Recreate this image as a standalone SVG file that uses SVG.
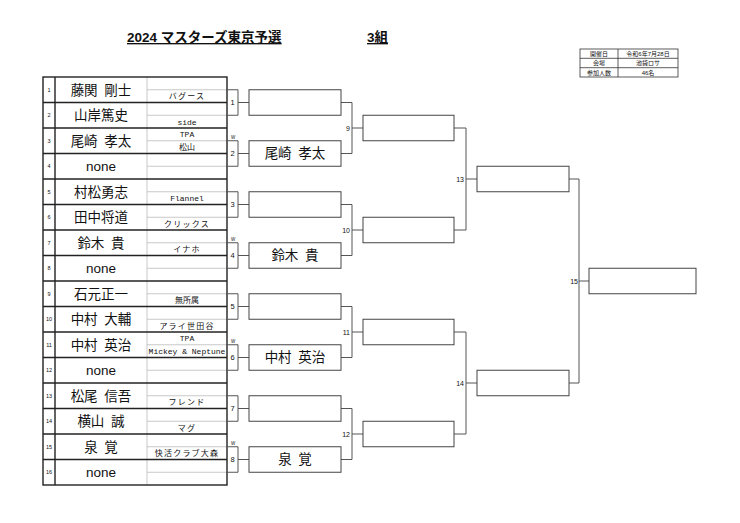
<svg xmlns="http://www.w3.org/2000/svg" width="740" height="523" viewBox="0 0 740 523">
<style>
text{font-family:"Liberation Sans","Noto Sans CJK JP",sans-serif;fill:#111}
.title{font-size:13.5px;font-weight:bold;text-decoration:underline}
.info{font-size:6px;text-anchor:middle}
.num{font-size:5.5px;text-anchor:middle}
.name{font-size:13.5px;text-anchor:middle}
.club{font-family:"Liberation Mono","Noto Sans CJK JP",monospace;font-size:8px;text-anchor:middle}
.kana{letter-spacing:1.2px}
.rn{font-size:7.5px;text-anchor:middle}
.lbl{font-size:7px;text-anchor:end}
.w{font-size:4.5px;text-anchor:middle}
.thick{stroke:#222;stroke-width:1.4;fill:none}
.thin{stroke:#bbb;stroke-width:0.8;fill:none}
.box{stroke:#444;stroke-width:1;fill:#fff}
.con{stroke:#555;stroke-width:1;fill:none}
</style>
<text class="title" x="127" y="42">2024 マスターズ東京予選</text>
<text class="title" x="367" y="42">3組</text>
<g id="info">
<rect x="580" y="49" width="98" height="28" fill="none" stroke="#333" stroke-width="0.8"/>
<line x1="618" y1="49" x2="618" y2="77" stroke="#333" stroke-width="0.8"/>
<line x1="580" y1="58.3" x2="678" y2="58.3" stroke="#333" stroke-width="0.8"/>
<line x1="580" y1="67.7" x2="678" y2="67.7" stroke="#333" stroke-width="0.8"/>
<text class="info" x="599" y="55.8">開催日</text><text class="info" x="648" y="55.8">令和6年7月28日</text>
<text class="info" x="599" y="65.2">会場</text><text class="info" x="648" y="65.2">池袋ロサ</text>
<text class="info" x="599" y="74.6">参加人数</text><text class="info" x="648" y="74.6">46名</text>
</g>
<g id="table">
<g class="thin">
<line x1="147" y1="89.75" x2="227" y2="89.75"/><line x1="147" y1="115.25" x2="227" y2="115.25"/>
<line x1="147" y1="140.75" x2="227" y2="140.75"/><line x1="147" y1="166.25" x2="227" y2="166.25"/>
<line x1="147" y1="191.75" x2="227" y2="191.75"/><line x1="147" y1="217.25" x2="227" y2="217.25"/>
<line x1="147" y1="242.75" x2="227" y2="242.75"/><line x1="147" y1="268.25" x2="227" y2="268.25"/>
<line x1="147" y1="293.75" x2="227" y2="293.75"/><line x1="147" y1="319.25" x2="227" y2="319.25"/>
<line x1="147" y1="344.75" x2="227" y2="344.75"/><line x1="147" y1="370.25" x2="227" y2="370.25"/>
<line x1="147" y1="395.75" x2="227" y2="395.75"/><line x1="147" y1="421.25" x2="227" y2="421.25"/>
<line x1="147" y1="446.75" x2="227" y2="446.75"/><line x1="147" y1="472.25" x2="227" y2="472.25"/>
<line x1="147" y1="77" x2="147" y2="485"/>
</g>
<g class="thick">
<rect x="43" y="77" width="184" height="408"/>
<line x1="55" y1="77" x2="55" y2="485"/>
<line x1="43" y1="102.5" x2="227" y2="102.5"/><line x1="43" y1="128" x2="227" y2="128"/>
<line x1="43" y1="153.5" x2="227" y2="153.5"/><line x1="43" y1="179" x2="227" y2="179"/>
<line x1="43" y1="204.5" x2="227" y2="204.5"/><line x1="43" y1="230" x2="227" y2="230"/>
<line x1="43" y1="255.5" x2="227" y2="255.5"/><line x1="43" y1="281" x2="227" y2="281"/>
<line x1="43" y1="306.5" x2="227" y2="306.5"/><line x1="43" y1="332" x2="227" y2="332"/>
<line x1="43" y1="357.5" x2="227" y2="357.5"/><line x1="43" y1="383" x2="227" y2="383"/>
<line x1="43" y1="408.5" x2="227" y2="408.5"/><line x1="43" y1="434" x2="227" y2="434"/>
<line x1="43" y1="459.5" x2="227" y2="459.5"/>
</g>
</g>
<g id="p1"><text class="num" x="49" y="91.7">1</text><text class="name" x="101" y="94.5">藤関&#8194;剛士</text><text class="club kana" x="187" y="99.3">バグース</text></g>
<g id="p2"><text class="num" x="49" y="117.2">2</text><text class="name" x="101" y="120">山岸篤史</text><text class="club" x="187" y="124.8">side</text></g>
<g id="p3"><text class="num" x="49" y="142.7">3</text><text class="name" x="101" y="145.5">尾崎&#8194;孝太</text><text class="club" x="187" y="136.8">TPA</text><text class="club" x="187" y="150.3">松山</text></g>
<g id="p4"><text class="num" x="49" y="168.2">4</text><text class="name" x="101" y="171">none</text></g>
<g id="p5"><text class="num" x="49" y="193.7">5</text><text class="name" x="101" y="196.5">村松勇志</text><text class="club" x="187" y="201.3">Flannel</text></g>
<g id="p6"><text class="num" x="49" y="219.2">6</text><text class="name" x="101" y="222">田中将道</text><text class="club kana" x="187" y="226.8">クリックス</text></g>
<g id="p7"><text class="num" x="49" y="244.7">7</text><text class="name" x="101" y="247.5">鈴木&#8194;貴</text><text class="club kana" x="187" y="252.3">イナホ</text></g>
<g id="p8"><text class="num" x="49" y="270.2">8</text><text class="name" x="101" y="273">none</text></g>
<g id="p9"><text class="num" x="49" y="295.7">9</text><text class="name" x="101" y="298.5">石元正一</text><text class="club" x="187" y="303.3">無所属</text></g>
<g id="p10"><text class="num" x="49" y="321.2">10</text><text class="name" x="101" y="324">中村&#8194;大輔</text><text class="club kana" x="187" y="328.8">アライ世田谷</text></g>
<g id="p11"><text class="num" x="49" y="346.7">11</text><text class="name" x="101" y="349.5">中村&#8194;英治</text><text class="club" x="187" y="340.8">TPA</text><text class="club" x="187" y="354.3">Mickey &amp; Neptune</text></g>
<g id="p12"><text class="num" x="49" y="372.2">12</text><text class="name" x="101" y="375">none</text></g>
<g id="p13"><text class="num" x="49" y="397.7">13</text><text class="name" x="101" y="400.5">松尾&#8194;信吾</text><text class="club kana" x="187" y="405.3">フレンド</text></g>
<g id="p14"><text class="num" x="49" y="423.2">14</text><text class="name" x="101" y="426">横山&#8194;誠</text><text class="club kana" x="187" y="430.8">マグ</text></g>
<g id="p15"><text class="num" x="49" y="448.7">15</text><text class="name" x="101" y="451.5">泉&#8194;覚</text><text class="club kana" x="187" y="456.3">快活クラブ大森</text></g>
<g id="p16"><text class="num" x="49" y="474.2">16</text><text class="name" x="101" y="477">none</text></g>
<g id="connectors" class="con">
<path d="M227 89.75H238V115.25H227M238 102.5H249"/>
<path d="M227 140.75H238V166.25H227M238 153.5H249"/>
<path d="M227 191.75H238V217.25H227M238 204.5H249"/>
<path d="M227 242.75H238V268.25H227M238 255.5H249"/>
<path d="M227 293.75H238V319.25H227M238 306.5H249"/>
<path d="M227 344.75H238V370.25H227M238 357.5H249"/>
<path d="M227 395.75H238V421.25H227M238 408.5H249"/>
<path d="M227 446.75H238V472.25H227M238 459.5H249"/>
<path d="M341 102.5H352V153.5H341M352 128H363"/>
<path d="M341 204.5H352V255.5H341M352 230H363"/>
<path d="M341 306.5H352V357.5H341M352 332H363"/>
<path d="M341 408.5H352V459.5H341M352 434H363"/>
<path d="M454 128H466V230H454M466 179H477"/>
<path d="M454 332H466V434H454M466 383H477"/>
<path d="M569 179H579V383H569M579 281H589"/>
</g>
<g id="r1labels">
<text class="rn" x="232.5" y="105.2">1</text><text class="rn" x="232.5" y="156.2">2</text>
<text class="rn" x="232.5" y="207.2">3</text><text class="rn" x="232.5" y="258.2">4</text>
<text class="rn" x="232.5" y="309.2">5</text><text class="rn" x="232.5" y="360.2">6</text>
<text class="rn" x="232.5" y="411.2">7</text><text class="rn" x="232.5" y="462.2">8</text>
<text class="w" x="233" y="138.5">W</text><text class="w" x="233" y="240.5">W</text>
<text class="w" x="233" y="342.5">W</text><text class="w" x="233" y="444.5">W</text>
</g>
<g id="m1"><rect class="box" x="249" y="89.75" width="92" height="25.5"/></g>
<g id="m2"><rect class="box" x="249" y="140.75" width="92" height="25.5"/><text class="name" x="295" y="158.3">尾崎&#8194;孝太</text></g>
<g id="m3"><rect class="box" x="249" y="191.75" width="92" height="25.5"/></g>
<g id="m4"><rect class="box" x="249" y="242.75" width="92" height="25.5"/><text class="name" x="295" y="260.3">鈴木&#8194;貴</text></g>
<g id="m5"><rect class="box" x="249" y="293.75" width="92" height="25.5"/></g>
<g id="m6"><rect class="box" x="249" y="344.75" width="92" height="25.5"/><text class="name" x="295" y="362.3">中村&#8194;英治</text></g>
<g id="m7"><rect class="box" x="249" y="395.75" width="92" height="25.5"/></g>
<g id="m8"><rect class="box" x="249" y="446.75" width="92" height="25.5"/><text class="name" x="295" y="464.3">泉&#8194;覚</text></g>
<g id="m9"><text class="lbl" x="350" y="130.5">9</text><rect class="box" x="363" y="115.25" width="91" height="25.5"/></g>
<g id="m10"><text class="lbl" x="350" y="232.5">10</text><rect class="box" x="363" y="217.25" width="91" height="25.5"/></g>
<g id="m11"><text class="lbl" x="350" y="334.5">11</text><rect class="box" x="363" y="319.25" width="91" height="25.5"/></g>
<g id="m12"><text class="lbl" x="350" y="436.5">12</text><rect class="box" x="363" y="421.25" width="91" height="25.5"/></g>
<g id="m13"><text class="lbl" x="464" y="181.5">13</text><rect class="box" x="477" y="166.25" width="92" height="25.5"/></g>
<g id="m14"><text class="lbl" x="464" y="385.5">14</text><rect class="box" x="477" y="370.25" width="92" height="25.5"/></g>
<g id="m15"><text class="lbl" x="578" y="283.5">15</text><rect class="box" x="589" y="268.25" width="107" height="25.5"/></g>
</svg>
